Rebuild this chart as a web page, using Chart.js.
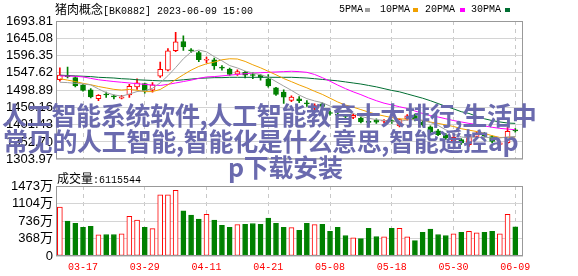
<!DOCTYPE html>
<html>
<head>
<meta charset="utf-8">
<script src="https://cdn.jsdelivr.net/npm/chart.js@4"></script>
<style>
  html, body { margin: 0; padding: 0; background: #fff; }
  #wrap { position: relative; width: 578px; height: 276px; overflow: hidden; }
  canvas { position: absolute; left: 0; }
  .t { position: absolute; white-space: nowrap; color: #000; line-height: 13px; }
  .mono { font-family: "Liberation Mono", monospace; font-size: 10px; }
  .cjk { font-family: "Noto Sans CJK SC", sans-serif; font-size: 12px; }
  .sq { position: absolute; width: 5px; height: 4px; top: 8px; }
  .big { position: absolute; white-space: nowrap; font-family: "Noto Sans CJK SC", sans-serif;
         font-weight: bold; font-size: 25px; line-height: 26px; letter-spacing: -0.3px; color: #6a6aae; }
</style>
</head>
<body>
<div id="wrap">
  <canvas id="kline" width="578" height="170" style="top:0"></canvas>
  <canvas id="vol" width="578" height="106" style="top:170px"></canvas>

  <div class="t" style="left:55px;top:2px"><span class="cjk">猪肉概念</span><span class="mono">[BK0882] 2023-06-09 15:00</span></div>

  <div class="t mono" style="left:339px;top:3px">5PMA</div><div class="sq" style="left:365px;background:#a0a0a0"></div>
  <div class="t mono" style="left:380px;top:3px">10PMA</div><div class="sq" style="left:413px;background:#f0a000"></div>
  <div class="t mono" style="left:425px;top:3px">20PMA</div><div class="sq" style="left:460px;background:#ff00ff"></div>
  <div class="t mono" style="left:471px;top:3px">30PMA</div><div class="sq" style="left:505px;background:#006e32"></div>

  <div class="t" style="left:57px;top:171px"><span class="cjk">成交量</span><span class="mono">:6115544</span></div>

  <div class="big" style="left:2px;top:101px">人工智能系统软件,人工智能教育十大排行,生活中</div>
  <div class="big" style="left:3px;top:127px">常见的人工智能,智能化是什么意思,智能遥控ap</div>
  <div class="big" style="left:228px;top:153px">p下载安装</div>
</div>

<script>
// trading days shown (60 sessions up to 2023-06-09)
const dates = ['03-14','03-15','03-16','03-17','03-20','03-21','03-22','03-23','03-24','03-27',
  '03-28','03-29','03-30','03-31','04-03','04-04','04-06','04-07','04-10','04-11',
  '04-12','04-13','04-14','04-17','04-18','04-19','04-20','04-21','04-24','04-25',
  '04-26','04-27','04-28','05-04','05-05','05-08','05-09','05-10','05-11','05-12',
  '05-15','05-16','05-17','05-18','05-19','05-22','05-23','05-24','05-25','05-26',
  '05-29','05-30','05-31','06-01','06-02','06-05','06-06','06-07','06-08','06-09'];
const tickIdx = [3, 11, 19, 27, 35, 43, 51, 59];

const open = [1528,1540,1534,1513,1500,1475,1487,1482,1476,1485,
  1508,1517,1499,1538,1555,1610,1636,1612,1605,1583,
  1584.5,1563,1558,1544,1549,1542,1541,1531,1505,1493,
  1469.7,1474.4,1462,1448,1460,1435,1428.5,1426.5,1422,1420,
  1409.5,1414,1411,1412,1398,1417.5,1427,1408,1395,1384,
  1372,1355.5,1359,1345,1368,1375,1367.5,1346,1350.5,1386.5];
const high = [1562,1564,1537,1515,1503,1486,1493,1485,1484,1515,
  1531,1519,1520,1578,1616,1662,1652,1616,1608,1592,
  1589,1568,1561,1556,1552,1548,1543,1543,1507,1500,
  1482.5,1480.6,1469,1460,1463,1440,1436,1430,1432,1423,
  1412,1418,1416,1415,1418,1430,1431,1412,1398,1388,
  1376,1372,1362,1370,1381,1379,1370,1354,1394,1390];
const low = [1524,1533,1508,1496,1477,1469,1478,1474,1474,1478,
  1501,1490,1493,1535,1553,1607,1611,1605,1579,1576,
  1557,1555,1540,1540,1533,1531,1527,1507,1484,1461,
  1466,1463.5,1452.6,1442,1449,1428,1422,1419,1418,1406,
  1402,1405,1406,1405,1395,1414,1412,1397,1378,1370,
  1360,1350,1346,1340,1364,1366,1350,1343,1348,1380];
const close = [1541.5,1537,1511.6,1498,1480,1484.4,1485,1480,1480,1509.8,
  1519.3,1497,1513.8,1557.3,1609.5,1634.8,1620.4,1610,1584.5,1585,
  1566.8,1561,1543,1551,1541,1540,1535,1511,1487,1479,
  1479,1469,1460.2,1455,1452.6,1433,1428,1424.6,1428,1409,
  1408,1408.5,1412,1410,1415.5,1426.5,1415,1400.5,1381,1373,
  1364,1365.5,1350,1368,1377.5,1370,1354,1350,1382.5,1383.5];

// volume in 万
const volume = [1029,733,690,604,625,446,453,453,468,835,
  755,604,575,1288,1288,1380,949,863,776,877,
  755,647,604,661,668,683,668,798,690,604,
  597,539,690,661,668,518,604,431,381,367,
  582,410,403,582,582,403,324,496,568,453,
  431,468,496,518,489,496,518,468,877,611.55];

const ma5 = [1521,1520,1518,1516,1513.6,1502.2,1491.8,1485.5,1481.9,1487.8,
  1494.8,1497.2,1504,1519.4,1539.4,1562.5,1587.2,1606.4,1611.8,1606.9,
  1593.3,1581.5,1568.1,1561.4,1552.6,1547.2,1542,1535.6,1522.8,1510.4,
  1498.2,1485,1474.8,1468.4,1463.2,1454,1445.8,1438.6,1433.2,1424.5,
  1419.5,1415.6,1413.1,1409.5,1410.8,1414.5,1415.8,1413.5,1407.7,1399.2,
  1386.7,1376.8,1366.7,1364.1,1365,1366.2,1363.9,1363.9,1366.8,1368];
const ma10 = [1531,1527,1523,1518,1514,1509,1505,1501,1499,1500.7,
  1498.5,1494.5,1494.8,1500.7,1513.6,1528.7,1542.2,1555.2,1565.6,1573.2,
  1577.9,1584.4,1587.3,1586.6,1579.8,1570.3,1561.8,1551.9,1542.1,1531.5,
  1522.7,1513.5,1505.2,1495.6,1486.8,1476.1,1465.4,1456.7,1450.8,1443.9,
  1436.8,1430.7,1425.9,1421.4,1417.7,1417,1415.7,1413.3,1408.6,1405,
  1400.6,1396.3,1390.1,1385.9,1382.1,1376.5,1370.4,1365.3,1365.5,1366.5];
const ma20 = [1538.8,1538.5,1538,1536,1532,1528,1525.5,1523,1521,1519,
  1517,1515,1513,1512,1515,1519,1523,1527,1532,1536,
  1537,1539,1541,1543,1545,1547,1548,1549,1550,1551,
  1552,1551,1549,1543,1534,1524,1513,1503,1494,1486,
  1477,1469,1462,1457,1452,1447,1440,1433,1427,1423,
  1418,1413,1409,1405,1402,1398,1394,1391,1389,1387];
const ma30 = [1541,1540,1539,1538,1537,1535,1534,1533,1531,1530,
  1528,1527,1526,1525,1525,1526,1528,1530,1532,1533,
  1534,1534,1535,1535,1535,1535,1535,1535,1535,1535,
  1535,1534,1533,1531,1529,1527,1525,1522,1519,1516,
  1512,1508,1503,1498,1494,1488,1482,1476,1469,1461,
  1453,1446,1438,1433,1425,1418,1413,1409,1406,1405];

const priceTicks = [1303.97,1352.70,1401.43,1450.16,1498.89,1547.62,1596.35,1645.08,1693.81];
const volTicks = [0, 368, 736, 1104, 1473];

const RED = '#ff0000';
const GREEN = '#008000';
const up = close.map((c, i) => c >= open[i]);
const xy = arr => arr.map((v, i) => ({ x: i, y: v }));

// grey box round each pane
const frame = {
  id: 'frame',
  afterDraw(chart) {
    const { ctx, chartArea: a } = chart;
    ctx.save();
    ctx.strokeStyle = '#999';
    ctx.lineWidth = 1;
    ctx.strokeRect(a.left + 0.5, a.top + 0.5, a.right - a.left - 1, a.bottom - a.top - 1);
    ctx.restore();
  }
};

const xScale = (showLabels) => ({
  type: 'linear',
  min: -0.5,
  max: 60,
  offset: false,
  afterBuildTicks: s => { s.ticks = tickIdx.map(v => ({ value: v })); },
  afterFit: s => { s.height = showLabels ? 20 : 0; },
  grid: { color: '#c8c8c8', drawTicks: false, offset: false, borderDash: [4, 4] },
  border: { display: false, dash: [4, 4] },
  ticks: {
    display: showLabels,
    autoSkip: false,
    maxRotation: 0,
    padding: 5,
    color: RED,
    font: { family: 'Liberation Mono', size: 10 },
    callback: v => dates[v]
  }
});

const yTicks = (fmt, family) => ({
  autoSkip: false,
  padding: 3,
  color: '#000',
  font: { family, size: 13 },
  callback: fmt
});

const lineSet = (data, color) => ({
  type: 'line',
  data: xy(data),
  borderColor: color,
  borderWidth: 1,
  pointRadius: 0,
  tension: 0,
  order: 0
});

new Chart(document.getElementById('kline'), {
  type: 'bar',
  data: {
    datasets: [
      lineSet(ma5, '#a0a0a0'),
      lineSet(ma10, '#f0a000'),
      lineSet(ma20, '#ff00ff'),
      lineSet(ma30, '#006e32'),
      {
        // candle bodies
        data: open.map((o, i) => ({ x: i, y: [o, close[i]] })),
        backgroundColor: up.map(u => u ? '#ffffff' : GREEN),
        borderColor: up.map(u => u ? RED : GREEN),
        borderWidth: 1,
        borderSkipped: false,
        barThickness: 5,
        minBarLength: 1,
        grouped: false,
        order: 1
      },
      {
        // wicks
        data: low.map((l, i) => ({ x: i, y: [l, high[i]] })),
        backgroundColor: up.map(u => u ? RED : GREEN),
        borderWidth: 0,
        barThickness: 1,
        grouped: false,
        order: 2
      }
    ]
  },
  options: {
    responsive: false,
    animation: false,
    events: [],
    layout: { padding: { left: 0, right: 55, top: 21, bottom: 5 } },
    plugins: { legend: { display: false }, tooltip: { enabled: false } },
    scales: {
      x: xScale(false),
      y: {
        min: 1303.97,
        max: 1693.81,
        afterBuildTicks: s => { s.ticks = priceTicks.map(v => ({ value: v })); },
        afterFit: s => { s.width = 56; },
        grid: { color: '#d4d4d4', drawTicks: false },
        border: { display: false },
        ticks: yTicks(v => v.toFixed(2), 'Liberation Sans')
      }
    }
  },
  plugins: [frame]
});

new Chart(document.getElementById('vol'), {
  type: 'bar',
  data: {
    datasets: [{
      data: xy(volume),
      backgroundColor: up.map(u => u ? '#ffffff' : GREEN),
      borderColor: up.map(u => u ? RED : GREEN),
      borderWidth: 1,
      borderSkipped: false,
      barThickness: 5,
      grouped: false
    }]
  },
  options: {
    responsive: false,
    animation: false,
    events: [],
    layout: { padding: { left: 0, right: 55, top: 16, bottom: 0 } },
    plugins: { legend: { display: false }, tooltip: { enabled: false } },
    scales: {
      x: xScale(true),
      y: {
        min: 0,
        max: 1473,
        afterBuildTicks: s => { s.ticks = volTicks.map(v => ({ value: v })); },
        afterFit: s => { s.width = 56; },
        grid: { color: '#d4d4d4', drawTicks: false },
        border: { display: false },
        ticks: yTicks(v => v === 0 ? '0' : v + '万', "'Liberation Sans', 'Noto Sans CJK SC'")
      }
    }
  },
  plugins: [frame]
});
</script>
</body>
</html>
